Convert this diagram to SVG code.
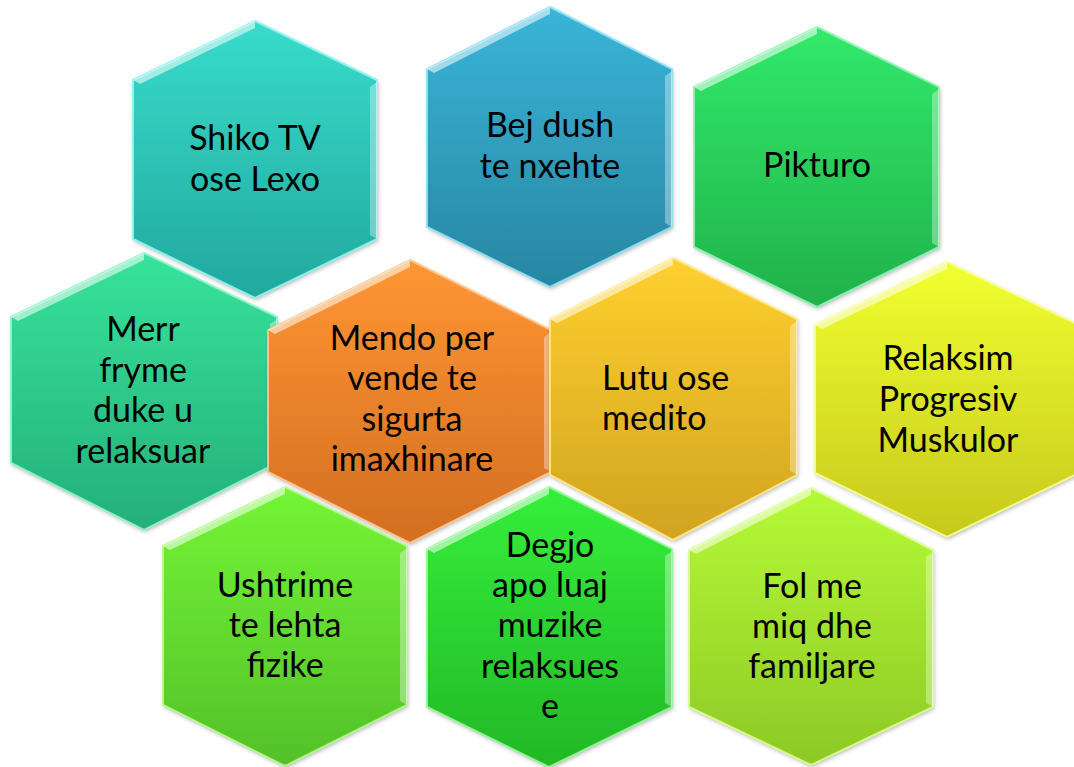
<svg xmlns="http://www.w3.org/2000/svg" width="1074" height="767" viewBox="0 0 1074 767">
<defs>
<filter id="sh" x="-10%" y="-10%" width="120%" height="120%"><feDropShadow dx="1" dy="2" stdDeviation="2" flood-color="#000" flood-opacity="0.3"/></filter>
<linearGradient id="g1" x1="0" y1="0" x2="0" y2="1"><stop offset="0" stop-color="#38DCCB"/><stop offset="1" stop-color="#22A89E"/></linearGradient>
<linearGradient id="g2" x1="0" y1="0" x2="0" y2="1"><stop offset="0" stop-color="#3AB5D8"/><stop offset="1" stop-color="#2786A2"/></linearGradient>
<linearGradient id="g3" x1="0" y1="0" x2="0" y2="1"><stop offset="0" stop-color="#31E96B"/><stop offset="1" stop-color="#21B14A"/></linearGradient>
<linearGradient id="g4" x1="0" y1="0" x2="0" y2="1"><stop offset="0" stop-color="#37E39B"/><stop offset="1" stop-color="#24AF79"/></linearGradient>
<linearGradient id="g5" x1="0" y1="0" x2="0" y2="1"><stop offset="0" stop-color="#FF9633"/><stop offset="1" stop-color="#D26E22"/></linearGradient>
<linearGradient id="g6" x1="0" y1="0" x2="0" y2="1"><stop offset="0" stop-color="#FFD02E"/><stop offset="1" stop-color="#D1A321"/></linearGradient>
<linearGradient id="g7" x1="0" y1="0" x2="0" y2="1"><stop offset="0" stop-color="#F1FF30"/><stop offset="1" stop-color="#C6C91D"/></linearGradient>
<linearGradient id="g8" x1="0" y1="0" x2="0" y2="1"><stop offset="0" stop-color="#74F535"/><stop offset="1" stop-color="#53C12A"/></linearGradient>
<linearGradient id="g9" x1="0" y1="0" x2="0" y2="1"><stop offset="0" stop-color="#35EF3B"/><stop offset="1" stop-color="#23B827"/></linearGradient>
<linearGradient id="g10" x1="0" y1="0" x2="0" y2="1"><stop offset="0" stop-color="#B6FA36"/><stop offset="1" stop-color="#8DC926"/></linearGradient>
</defs>
<style>
.hex{filter:url(#sh);}
.edge{fill:none;stroke-width:2;stroke-opacity:0.9;}
.hl{fill:#FFFFFF;fill-opacity:0.55;}
.hr{fill:#FFFFFF;fill-opacity:0.35;}
.t{font-family:Lato,"Liberation Sans",sans-serif;font-size:34px;fill:#000;text-anchor:middle;}
.tl{text-anchor:start;}
</style>
<g id="connectors"></g>

<g id="n1">
<polygon class="hex" points="255,21 377,80 377,239 255,298 133,239 133,80" fill="url(#g1)"/>
<polygon class="edge" points="255,21 377,80 377,239 255,298 133,239 133,80" stroke="#8EF5EE"/>
<polygon class="hl" points="133,80 255,21 255,28 140,84"/>
<polygon class="hr" points="377,82 377,239 370,235 370,87"/>
<text class="t" x="255" y="150">Shiko TV</text>
<text class="t" x="255" y="191">ose Lexo</text>
</g>

<g id="n2">
<polygon class="hex" points="550,7 672,69 672,227 550,287 427,227 427,69" fill="url(#g2)"/>
<polygon class="edge" points="550,7 672,69 672,227 550,287 427,227 427,69" stroke="#8EE2F7"/>
<polygon class="hl" points="427,69 550,7 550,14 434,73"/>
<polygon class="hr" points="672,71 672,227 665,223 665,76"/>
<text class="t" x="550" y="137">Bej dush</text>
<text class="t" x="550" y="178">te nxehte</text>
</g>

<g id="n3">
<polygon class="hex" points="817,27 939,87 939,247 817,307 694,247 694,87" fill="url(#g3)"/>
<polygon class="edge" points="817,27 939,87 939,247 817,307 694,247 694,87" stroke="#8AF5B5"/>
<polygon class="hl" points="694,87 817,27 817,34 701,91"/>
<polygon class="hr" points="939,89 939,247 932,243 932,94"/>
<text class="t" x="817" y="177">Pikturo</text>
</g>

<g id="n4">
<polygon class="hex" points="144,253 277,317 277,463 144,530 11,463 11,317" fill="url(#g4)"/>
<polygon class="edge" points="144,253 277,317 277,463 144,530 11,463 11,317" stroke="#8EF5CD"/>
<polygon class="hl" points="11,317 144,253 144,260 18,321"/>
<polygon class="hr" points="277,319 277,463 270,459 270,324"/>
<text class="t" x="143" y="341">Merr</text>
<text class="t" x="143" y="382">fryme</text>
<text class="t" x="143" y="422">duke u</text>
<text class="t" x="143" y="463">relaksuar</text>
</g>

<g id="n5">
<polygon class="hex" points="410,260 551,330 551,472 410,543 268,472 268,330" fill="url(#g5)"/>
<polygon class="edge" points="410,260 551,330 551,472 410,543 268,472 268,330" stroke="#FFC88E"/>
<polygon class="hl" points="268,330 410,260 410,267 275,334"/>
<polygon class="hr" points="551,332 551,472 544,468 544,337"/>
<text class="t" x="412" y="350">Mendo per</text>
<text class="t" x="412" y="390">vende te</text>
<text class="t" x="412" y="431">sigurta</text>
<text class="t" x="412" y="471">imaxhinare</text>
</g>

<g id="n6">
<polygon class="hex" points="673,258 797,319 797,475 673,540 550,475 550,319" fill="url(#g6)"/>
<polygon class="edge" points="673,258 797,319 797,475 673,540 550,475 550,319" stroke="#FFE98A"/>
<polygon class="hl" points="550,319 673,258 673,265 557,323"/>
<polygon class="hr" points="797,321 797,475 790,471 790,326"/>
<text class="t tl" x="602" y="390">Lutu ose</text>
<text class="t tl" x="602" y="430">medito</text>
</g>

<g id="n7">
<polygon class="hex" points="947,262 1079,325 1079,473 947,537 815,473 815,325" fill="url(#g7)"/>
<polygon class="edge" points="947,262 1079,325 1079,473 947,537 815,473 815,325" stroke="#F8FF92"/>
<polygon class="hl" points="815,325 947,262 947,269 822,329"/>
<text class="t" x="948" y="370">Relaksim</text>
<text class="t" x="948" y="411">Progresiv</text>
<text class="t" x="948" y="452">Muskulor</text>
</g>

<g id="n8">
<polygon class="hex" points="285,487 407,546 407,705 285,766 163,705 163,546" fill="url(#g8)"/>
<polygon class="edge" points="285,487 407,546 407,705 285,766 163,705 163,546" stroke="#B6FA8E"/>
<polygon class="hl" points="163,546 285,487 285,494 170,550"/>
<polygon class="hr" points="407,548 407,705 400,701 400,553"/>
<text class="t" x="285" y="597">Ushtrime</text>
<text class="t" x="285" y="637">te lehta</text>
<text class="t" x="285" y="677">fizike</text>
</g>

<g id="n9">
<polygon class="hex" points="549,487 672,549 672,707 549,767 427,707 427,549" fill="url(#g9)"/>
<polygon class="edge" points="549,487 672,549 672,707 549,767 427,707 427,549" stroke="#96F799"/>
<polygon class="hl" points="427,549 549,487 549,494 434,553"/>
<polygon class="hr" points="672,551 672,707 665,703 665,556"/>
<text class="t" x="550" y="557">Degjo</text>
<text class="t" x="550" y="597">apo luaj</text>
<text class="t" x="550" y="637">muzike</text>
<text class="t" x="550" y="678">relaksues</text>
<text class="t" x="550" y="718">e</text>
</g>

<g id="n10">
<polygon class="hex" points="811,488 933,550 933,707 811,765 689,707 689,550" fill="url(#g10)"/>
<polygon class="edge" points="811,488 933,550 933,707 811,765 689,707 689,550" stroke="#DDFD92"/>
<polygon class="hl" points="689,550 811,488 811,495 696,554"/>
<polygon class="hr" points="933,552 933,707 926,703 926,557"/>
<text class="t" x="812" y="598">Fol me</text>
<text class="t" x="812" y="638">miq dhe</text>
<text class="t" x="812" y="678">familjare</text>
</g>
</svg>
